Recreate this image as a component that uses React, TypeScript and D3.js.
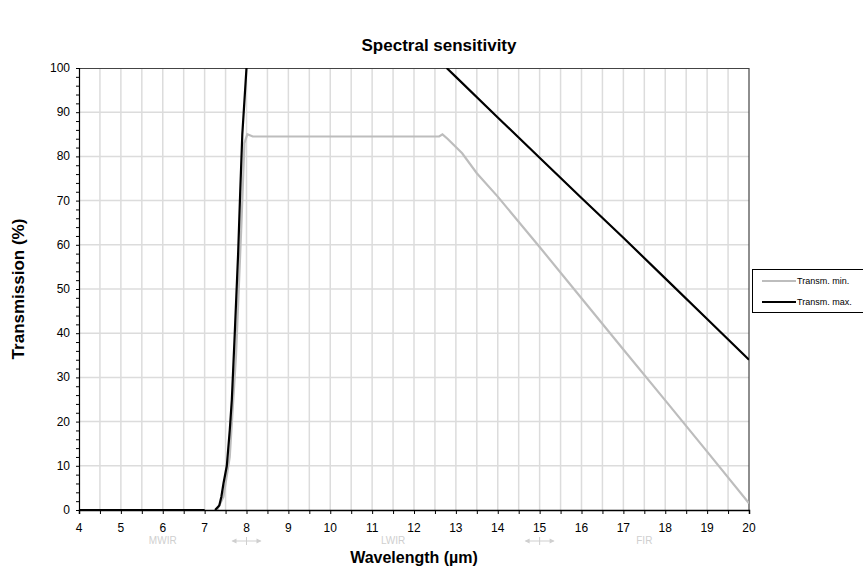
import React, { useRef, useEffect } from "react";
import * as d3 from "d3";

// wavelength (µm) / transmission (%)
const maxX = [4, 7, null, 7.25, 7.35, 7.4, 7.45, 7.53, 7.6, 7.65, 7.72, 7.8, 7.85, 7.9, 8.0];
const maxY = [0, 0, null, 0, 1, 3, 6, 10, 18, 25, 40, 58, 72, 85, 100];
const maxX2 = [12.78, 13, 14, 15, 16, 17, 18, 19, 20];
const maxY2 = [100, 98, 88.8, 79.7, 70.6, 61.6, 52.4, 43.2, 34];

const minX = [4, 7, null, 7.3, 7.45, 7.6, 7.75, 7.88, 7.95, 8.02, 8.15, 12.6, 12.68, 12.8, 13.15, 13.5, 14, 15, 16, 17, 18, 19, 20];
const minY = [0, 0, null, 0, 3, 12, 35, 65, 83, 85, 84.5, 84.5, 85, 84, 80.7, 76.2, 70.9, 59.5, 47.9, 36.3, 24.8, 13.2, 1.5];

const xTicks = [4, 5, 6, 7, 8, 9, 10, 11, 12, 13, 14, 15, 16, 17, 18, 19, 20];
const yTicks = [0, 10, 20, 30, 40, 50, 60, 70, 80, 90, 100];
const bands = [
  { label: "MWIR", at: 6 },
  { label: "LWIR", at: 11.5 },
  { label: "FIR", at: 17.5 },
];
const bandEdges = [8, 15];
const seriesNames = ["Transm. min.", "Transm. max."];

type Pt = { x: number; y: number } | null;
const zip = (xs: (number | null)[], ys: (number | null)[]): Pt[] =>
  xs.map((x, i) => (x === null || ys[i] === null ? null : { x: x as number, y: ys[i] as number }));

const App: React.FC = () => {
  const svgRef = useRef<SVGSVGElement | null>(null);

  useEffect(() => {
    const width = 863;
    const height = 568;
    const margin = { top: 68, right: 114, bottom: 58, left: 79 };
    const innerWidth = width - margin.left - margin.right;
    const innerHeight = height - margin.top - margin.bottom;

    const svg = d3.select(svgRef.current);
    svg.selectAll("*").remove();
    svg.attr("width", width).attr("height", height);

    const font = "Arial, 'Liberation Sans', sans-serif";

    const x = d3.scaleLinear().domain([4, 20]).range([0, innerWidth]);
    const y = d3.scaleLinear().domain([0, 100]).range([innerHeight, 0]);

    const chart = svg
      .append("g")
      .attr("transform", `translate(${margin.left},${margin.top})`);

    // clip so the max curve stops at the frame
    svg
      .append("defs")
      .append("clipPath")
      .attr("id", "plot-clip")
      .append("rect")
      .attr("width", innerWidth)
      .attr("height", innerHeight);

    // grid
    const halfSteps = d3.range(4.5, 20, 0.5);
    chart
      .append("g")
      .selectAll("line")
      .data(halfSteps)
      .join("line")
      .attr("x1", (d) => x(d))
      .attr("x2", (d) => x(d))
      .attr("y1", 0)
      .attr("y2", innerHeight)
      .attr("stroke", "#dcdcdc")
      .attr("stroke-width", 1.5);

    chart
      .append("g")
      .selectAll("line")
      .data(yTicks.slice(1, -1))
      .join("line")
      .attr("x1", 0)
      .attr("x2", innerWidth)
      .attr("y1", (d) => y(d))
      .attr("y2", (d) => y(d))
      .attr("stroke", "#dcdcdc")
      .attr("stroke-width", 1.5);

    // frame top / right
    chart
      .append("path")
      .attr("d", `M0,0.5H${innerWidth}V${innerHeight}`)
      .attr("fill", "none")
      .attr("stroke", "#444")
      .attr("stroke-width", 1.2);

    // lines
    const line = d3
      .line<Pt>()
      .defined((d) => d !== null)
      .x((d) => x(d!.x))
      .y((d) => y(d!.y));

    const plot = chart.append("g").attr("clip-path", "url(#plot-clip)");

    plot
      .append("path")
      .attr("d", line(zip(minX, minY)))
      .attr("fill", "none")
      .attr("stroke", "#bdbdbd")
      .attr("stroke-width", 2.2);

    [zip(maxX, maxY), zip(maxX2, maxY2)].forEach((pts) => {
      plot
        .append("path")
        .attr("d", line(pts))
        .attr("fill", "none")
        .attr("stroke", "#000")
        .attr("stroke-width", 2.2);
    });

    // axes
    const xAxis = chart
      .append("g")
      .attr("transform", `translate(0,${innerHeight})`)
      .call(
        d3
          .axisBottom(x)
          .tickValues(d3.range(4, 20.01, 0.5))
          .tickSize(4)
          .tickFormat(() => "")
      );
    xAxis.select(".domain").attr("stroke", "#000").attr("stroke-width", 1.5);
    xAxis.selectAll(".tick line").attr("stroke", "#000");

    chart
      .append("g")
      .selectAll("text")
      .data(xTicks)
      .join("text")
      .attr("x", (d) => x(d))
      .attr("y", innerHeight + 22)
      .attr("text-anchor", "middle")
      .style("font-family", font)
      .style("font-size", "12px")
      .text((d) => d);

    const yAxis = chart
      .append("g")
      .call(
        d3
          .axisLeft(y)
          .tickValues(d3.range(0, 100.01, 2))
          .tickSize(3)
          .tickFormat(() => "")
      );
    yAxis.select(".domain").attr("stroke", "#000").attr("stroke-width", 1.2);
    yAxis.selectAll(".tick line").attr("stroke", "#000");

    chart
      .append("g")
      .selectAll("text")
      .data(yTicks)
      .join("text")
      .attr("x", -9)
      .attr("y", (d) => y(d) + 4)
      .attr("text-anchor", "end")
      .style("font-family", font)
      .style("font-size", "12px")
      .text((d) => d);

    // band labels
    chart
      .append("g")
      .selectAll("text")
      .data(bands)
      .join("text")
      .attr("x", (d) => x(d.at))
      .attr("y", innerHeight + 34)
      .attr("text-anchor", "middle")
      .attr("fill", "#cfcfcf")
      .style("font-family", font)
      .style("font-size", "10px")
      .text((d) => d.label);

    const edge = chart
      .append("g")
      .selectAll("g")
      .data(bandEdges)
      .join("g")
      .attr("transform", (d) => `translate(${x(d)},${innerHeight + 31})`)
      .attr("stroke", "#cfcfcf")
      .attr("fill", "#cfcfcf");
    edge.append("line").attr("x1", -14).attr("x2", 14).attr("stroke-width", 1);
    edge.append("line").attr("y1", -4).attr("y2", 4).attr("stroke-width", 1);
    edge.append("path").attr("d", "M-15,0L-10,-2.5L-10,2.5Z").attr("stroke", "none");
    edge.append("path").attr("d", "M15,0L10,-2.5L10,2.5Z").attr("stroke", "none");

    // titles
    svg
      .append("text")
      .attr("x", 439)
      .attr("y", 51)
      .attr("text-anchor", "middle")
      .style("font-family", font)
      .style("font-size", "17px")
      .style("font-weight", "bold")
      .text("Spectral sensitivity");

    svg
      .append("text")
      .attr("x", margin.left + innerWidth / 2)
      .attr("y", 563)
      .attr("text-anchor", "middle")
      .style("font-family", font)
      .style("font-size", "16px")
      .style("font-weight", "bold")
      .text("Wavelength (µm)");

    svg
      .append("text")
      .attr("transform", `translate(24,${margin.top + innerHeight / 2}) rotate(-90)`)
      .attr("text-anchor", "middle")
      .style("font-family", font)
      .style("font-size", "17px")
      .style("font-weight", "bold")
      .text("Transmission (%)");

    // legend
    const legend = svg.append("g").attr("transform", "translate(752,269)");
    legend
      .append("rect")
      .attr("x", 0.5)
      .attr("y", 0.5)
      .attr("width", 112)
      .attr("height", 43)
      .attr("fill", "#fff")
      .attr("stroke", "#000");
    const rows = legend
      .selectAll("g.row")
      .data(seriesNames)
      .join("g")
      .attr("class", "row")
      .attr("transform", (_, i) => `translate(0,${12 + i * 21})`);
    rows
      .append("line")
      .attr("x1", 10)
      .attr("x2", 44)
      .attr("stroke", (_, i) => (i === 0 ? "#bdbdbd" : "#000"))
      .attr("stroke-width", 2);
    rows
      .append("text")
      .attr("x", 45)
      .attr("y", 3)
      .style("font-family", font)
      .style("font-size", "9px")
      .text((d) => d);
  }, []);

  return (
    <div style={{ position: "absolute", left: 0, top: 0 }}>
      <svg ref={svgRef} />
    </div>
  );
};

export default App;
